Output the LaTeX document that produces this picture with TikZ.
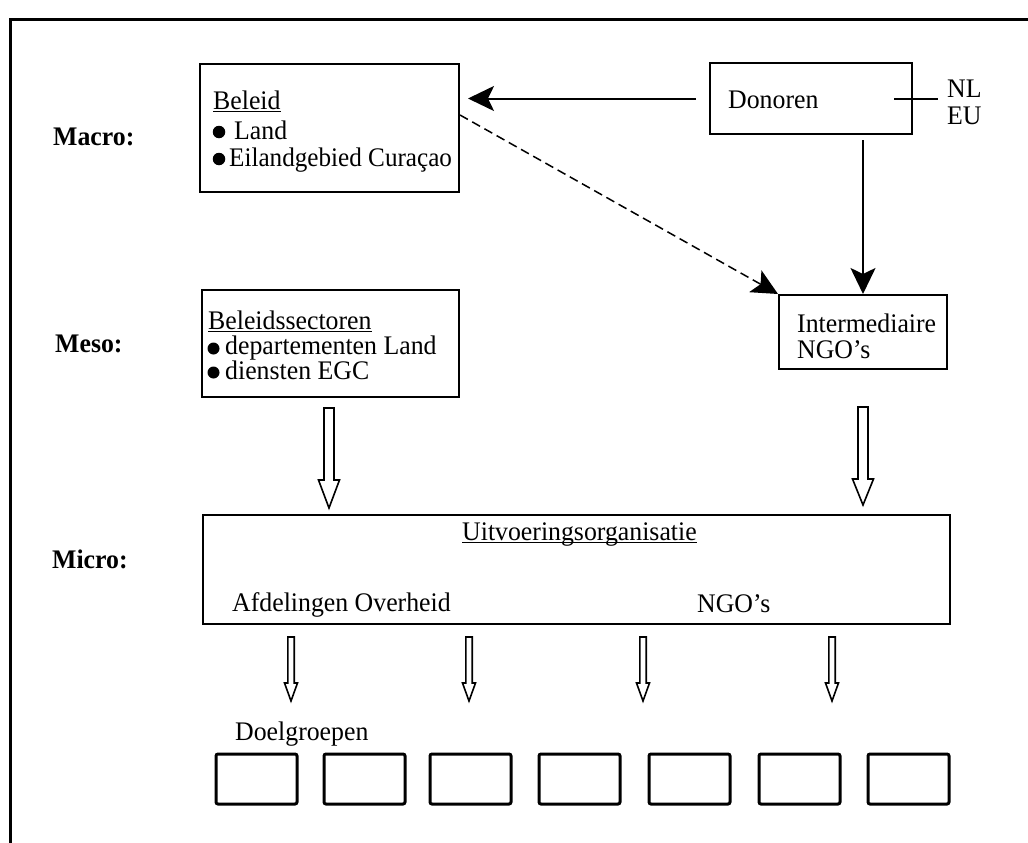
\documentclass[tikz,border=0pt]{standalone}
\usepackage{fontspec}
\setmainfont{Liberation Serif}
\usetikzlibrary{arrows.meta}
\newcommand\vs[1]{\scalebox{1}[1.04]{#1}}
\newcommand\myul[1]{\setbox0\hbox{\vs{#1}}\rlap{\rule[-3.3pt]{\wd0}{1.3pt}}\box0}
\newcommand\hollowdown[6]{%
  \draw[hollow] (#1-#4,#2) -- (#1+#4,#2) -- (#1+#4,#3-#6) -- (#1+#5,#3-#6) -- (#1,#3) -- (#1-#5,#3-#6) -- (#1-#4,#3-#6) -- cycle;}
\begin{document}
\begin{tikzpicture}[x=1pt,y=-1pt,
  box/.style={draw, line width=2pt, inner sep=0pt},
  tgt/.style={draw, line width=3pt, rounded corners=2pt, inner sep=0pt, minimum width=81pt, minimum height=50pt},
  txt/.style={anchor=base west, inner sep=0pt, font=\fontsize{25.8}{29}\selectfont},
  lvl/.style={anchor=base west, inner sep=0pt, font=\fontsize{25.8}{29}\selectfont\bfseries},
  dot/.style={circle, fill, inner sep=0pt, minimum size=#1},
  dot/.default=12.5pt,
  hollow/.style={draw, line width=1.6pt, line join=miter},
  bigtip/.style={-{Stealth[length=26pt,width=25pt,inset=6pt]}}]
\useasboundingbox (0,0) rectangle (1028,843);
% frame
\coordinate (f1) at (10,843);
\coordinate (f2) at (10,19.5);
\coordinate (f3) at (1028,19.5);
\draw[line width=3pt] (f1) -- (f2) -- (f3);
% level labels
\node[lvl] (macro) at (53,145) {\vs{Macro:}};
\node[lvl] (meso) at (55,352) {\vs{Meso:}};
\node[lvl] (micro) at (52,568) {\vs{Micro:}};
% boxes
\node[box, minimum width=259pt, minimum height=128pt] (bel) at (329.5,128) {};
\node[box, minimum width=202pt, minimum height=71pt] (don) at (811,98.5) {};
\node[box, minimum width=257pt, minimum height=107pt] (sec) at (330.5,343.5) {};
\node[box, minimum width=168pt, minimum height=74pt] (int) at (863,332) {};
\node[box, minimum width=747pt, minimum height=109pt] (uit) at (576.5,569.5) {};
% bullets
\node[dot] (b1) at (219,132) {};
\node[dot] (b2) at (219,159) {};
\node[dot=12pt] (b3) at (213.5,348.5) {};
\node[dot=12pt] (b4) at (213.5,372.5) {};
% texts
\node[txt] (t-bel) at (213,109) {\myul{Beleid}};
\node[txt] (t-bel1) at (234,139) {\vs{Land}};
\node[txt] (t-bel2) at (229,166) {\scalebox{0.975}[1.04]{Eilandgebied Curaçao}};
\node[txt] (t-don) at (728,108) {\vs{Donoren}};
\node[txt] (t-nl) at (947,97) {\vs{NL}};
\node[txt] (t-eu) at (947,124) {\vs{EU}};
\node[txt] (t-sec) at (208,329) {\myul{Beleidssectoren}};
\node[txt] (t-sec1) at (225,354) {\vs{departementen Land}};
\node[txt] (t-sec2) at (225,379) {\vs{diensten EGC}};
\node[txt] (t-int1) at (797,332) {\vs{Intermediaire}};
\node[txt] (t-int2) at (797,358) {\vs{NGO’s}};
\node[txt] (t-uit) at (462,540) {\myul{Uitvoeringsorganisatie}};
\node[txt] (t-afd) at (232,611) {\vs{Afdelingen Overheid}};
\node[txt] (t-ngo) at (697,612) {\vs{NGO’s}};
\node[txt] (t-doel) at (235,740) {\vs{Doelgroepen}};
% target group boxes
\foreach \i/\x in {1/216,2/324,3/430,4/539,5/649,6/759,7/868}{
  \node[tgt] (g\i) at (\x+40.5,779) {};
}
% connectors
\draw[line width=2pt, bigtip, shorten <=13pt, shorten >=8pt] (don.west) -- (bel.east |- don.west);
\draw[line width=2pt] ([xshift=-19pt]don.east) -- ([xshift=25pt]don.east);
\draw[line width=2pt, bigtip, shorten <=5pt] (int.north |- don.south) -- (int.north);
\draw[line width=1.5pt, dash pattern=on 9pt off 5pt, bigtip] ([yshift=13pt]bel.east) -- (int.north west);
% hollow arrows
\hollowdown{329}{408}{508}{5}{10.5}{28}
\hollowdown{863}{407}{505}{5}{10.5}{26}
\foreach \x in {291,469,643,832}{
  \hollowdown{\x}{637}{701}{3.2}{6.5}{18}
}
\end{tikzpicture}
\end{document}
